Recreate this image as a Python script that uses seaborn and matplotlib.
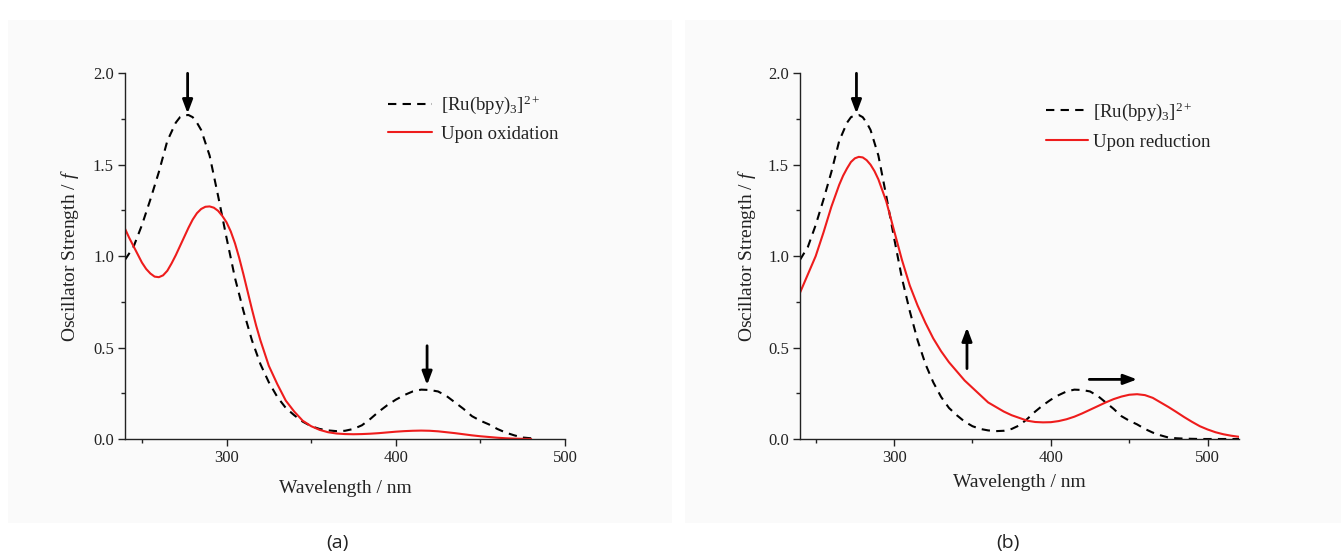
import numpy as np
import pandas as pd
import matplotlib
matplotlib.use("Agg")
import matplotlib.pyplot as plt
from matplotlib.patches import Rectangle
from matplotlib.ticker import MultipleLocator
import seaborn as sns

# ---- spectra (oscillator strength vs wavelength) ----
wl_ref = [240, 245, 250, 255, 260, 265, 270, 272.5, 275, 277.5, 280, 282.5, 285, 290, 295, 300, 305, 310,
          315, 320, 325, 330, 335, 340, 345, 350, 355, 360, 365, 370, 375, 380, 385,
          390, 395, 400, 405, 410, 415, 420, 425, 430, 435, 440, 445, 450, 455, 460,
          465, 470, 475, 480, 485, 490, 495, 500, 505, 510, 515, 520]
f_ref = [0.98, 1.05, 1.17, 1.31, 1.46, 1.63, 1.73, 1.76, 1.77, 1.772, 1.76, 1.73, 1.69, 1.55, 1.33, 1.10, 0.88, 0.70,
         0.54, 0.41, 0.31, 0.23, 0.17, 0.13, 0.095, 0.07, 0.055, 0.047, 0.043, 0.045, 0.055, 0.075, 0.11,
         0.15, 0.185, 0.215, 0.24, 0.26, 0.27, 0.268, 0.26, 0.235, 0.20, 0.165, 0.125, 0.10, 0.08, 0.055,
         0.035, 0.02, 0.008, 0.004, 0.002, 0.001, 0.0, 0.0, 0.0, 0.0, 0.0, 0.0]

wl_ox = [240, 242.5, 245, 247.5, 250, 252.5, 255, 257.5, 260, 262.5, 265, 267.5, 270, 272.5, 275,
         277.5, 280, 282.5, 285, 287.5, 290, 292.5, 295, 297.5, 300, 302.5, 305, 307.5, 310,
         312.5, 315, 317.5, 320, 325, 330, 335, 340, 345, 350, 355, 360, 365, 370, 375, 380, 385,
         390, 395, 400, 405, 410, 415, 420, 425, 430, 435, 440, 445, 450, 455, 460,
         465, 470, 475, 480]
f_ox = [1.15, 1.10, 1.055, 1.01, 0.965, 0.93, 0.905, 0.888, 0.885, 0.895, 0.92, 0.96, 1.005, 1.055, 1.105,
        1.155, 1.20, 1.235, 1.258, 1.27, 1.272, 1.265, 1.248, 1.22, 1.185, 1.135, 1.07, 0.99, 0.90,
        0.805, 0.71, 0.62, 0.54, 0.40, 0.30, 0.21, 0.15, 0.10, 0.07, 0.05, 0.037, 0.030, 0.027, 0.026, 0.027, 0.029,
        0.032, 0.036, 0.040, 0.043, 0.045, 0.046, 0.045, 0.042, 0.037, 0.032, 0.026, 0.020, 0.015, 0.011, 0.007,
        0.004, 0.002, 0.001, 0.0]

wl_red = [240, 245, 250, 255, 260, 265, 267.5, 270, 272.5, 275, 277.5, 280, 282.5, 285, 287.5, 290, 295, 300, 305, 310,
          315, 320, 325, 330, 335, 340, 345, 350, 355, 360, 365, 370, 375, 380, 385,
          390, 395, 400, 405, 410, 415, 420, 425, 430, 435, 440, 445, 450, 455, 460,
          465, 470, 475, 480, 485, 490, 495, 500, 505, 510, 515, 520]
f_red = [0.80, 0.90, 1.00, 1.13, 1.27, 1.39, 1.44, 1.48, 1.515, 1.535, 1.543, 1.54, 1.525, 1.50, 1.465, 1.42, 1.30, 1.14, 0.98, 0.84,
         0.73, 0.635, 0.55, 0.48, 0.42, 0.37, 0.32, 0.28, 0.24, 0.20, 0.175, 0.15, 0.13, 0.115, 0.10,
         0.093, 0.091, 0.092, 0.098, 0.108, 0.122, 0.14, 0.16, 0.18, 0.20, 0.218, 0.232, 0.242, 0.245, 0.24,
         0.225, 0.20, 0.175, 0.148, 0.12, 0.094, 0.07, 0.052, 0.037, 0.026, 0.018, 0.012]

x_ticks = [300, 400, 500]
y_ticks = [0.0, 0.5, 1.0, 1.5, 2.0]
ref_label = "[Ru(bpy)$_3$]$^{2+}$"
ox_label = "Upon oxidation"
red_label = "Upon reduction"
x_title = "Wavelength / nm"
y_title = "Oscillator Strength / $f$"

df_ref = pd.DataFrame({"wl": wl_ref, "f": f_ref})
df_ox = pd.DataFrame({"wl": wl_ox, "f": f_ox})
df_red = pd.DataFrame({"wl": wl_red, "f": f_red})

sns.set_style("ticks")
plt.rcParams["font.family"] = ["Liberation Serif", "DejaVu Serif"]
plt.rcParams["mathtext.fontset"] = "custom"
plt.rcParams["mathtext.rm"] = "Liberation Serif"
plt.rcParams["mathtext.it"] = "Liberation Serif:italic"
plt.rcParams["mathtext.bf"] = "Liberation Serif:bold"

fig = plt.figure(figsize=(13.41, 5.55), dpi=100)

# light panel backgrounds, kept behind the axes
for x0, w in [(8, 664), (685, 656)]:
    fig.patches.append(Rectangle((x0 / 1341, 1 - 523 / 555), w / 1341, 503 / 555,
                                 transform=fig.transFigure, facecolor="#fafafa",
                                 edgecolor="none", zorder=-10))

ax_a = fig.add_axes([125 / 1341, 1 - 439 / 555, 440 / 1341, 365.7 / 555])
ax_b = fig.add_axes([800 / 1341, 1 - 439 / 555, 439 / 1341, 365.7 / 555])

RED = "#ee1c1c"
dash = (4, 3)

df_ref_a = df_ref[df_ref["wl"] <= 480]
sns.lineplot(data=df_ref_a, x="wl", y="f", ax=ax_a, color="black", lw=1.5,
             label=ref_label, sort=False)
ax_a.lines[-1].set_dashes(dash)
sns.lineplot(data=df_ox, x="wl", y="f", ax=ax_a, color=RED, lw=1.5,
             label=ox_label, sort=False)

sns.lineplot(data=df_ref, x="wl", y="f", ax=ax_b, color="black", lw=1.5,
             label=ref_label, sort=False)
ax_b.lines[-1].set_dashes(dash)
sns.lineplot(data=df_red, x="wl", y="f", ax=ax_b, color=RED, lw=1.5,
             label=red_label, sort=False)

for ax, xmax in [(ax_a, 500), (ax_b, 520)]:
    for ln in ax.lines:
        ln.set_solid_joinstyle("round")
        ln.set_dash_joinstyle("round")
    ax.set_facecolor("none")
    ax.patch.set_alpha(0)
    ax.set_xlim(240, xmax)
    ax.set_ylim(0, 2.0)
    ax.set_xticks(x_ticks)
    ax.set_yticks(y_ticks)
    ax.set_yticklabels([f"{v:.1f}" for v in y_ticks])
    ax.xaxis.set_minor_locator(MultipleLocator(50))
    ax.yaxis.set_minor_locator(MultipleLocator(0.25))
    ax.tick_params(which="major", direction="out", length=5, width=1, labelsize=12,
                   color="#222222", labelcolor="#222222", pad=3)
    ax.tick_params(which="minor", direction="out", length=3, width=1, color="#222222")
    for s in ["top", "right"]:
        ax.spines[s].set_visible(False)
    for s in ["left", "bottom"]:
        ax.spines[s].set_linewidth(1.0)
        ax.spines[s].set_color("#222222")
    ax.set_xlabel(x_title, fontsize=14, color="#222222")
    ax.set_ylabel(y_title, fontsize=14, color="#222222")

ax_a.xaxis.set_label_coords(0.5, -0.111)
ax_a.yaxis.set_label_coords(-0.1, 0.5)
ax_b.xaxis.set_label_coords(0.5, -0.096)
ax_b.yaxis.set_label_coords(-0.095, 0.5)

leg_a = ax_a.legend(loc="upper left", bbox_to_anchor=(0.598, 0.944), frameon=False,
                    fontsize=13.5, handlelength=2.35, handletextpad=0.45,
                    labelspacing=0.5, borderpad=0, borderaxespad=0)
leg_b = ax_b.legend(loc="upper left", bbox_to_anchor=(0.56, 0.926), frameon=False,
                    fontsize=13.5, handlelength=2.25, handletextpad=0.25,
                    labelspacing=0.58, borderpad=0, borderaxespad=0)
for leg in (leg_a, leg_b):
    leg.get_lines()[0].set_dashes(dash)
    for t in leg.get_texts():
        t.set_color("#222222")

arrow_kw = dict(arrowstyle="-|>,head_length=0.8,head_width=0.3", color="black", lw=2,
                shrinkA=0, shrinkB=0)
ax_a.annotate("", xy=(277, 1.78), xytext=(277, 2.0), arrowprops=arrow_kw)
ax_a.annotate("", xy=(418.5, 0.295), xytext=(418.5, 0.51), arrowprops=arrow_kw)
ax_b.annotate("", xy=(276, 1.78), xytext=(276, 2.0), arrowprops=arrow_kw)
ax_b.annotate("", xy=(346.5, 0.61), xytext=(346.5, 0.385), arrowprops=arrow_kw)
ax_b.annotate("", xy=(455, 0.326), xytext=(424.5, 0.326), arrowprops=arrow_kw)

fig.text(337 / 1341, 1 - 543 / 555, "(a)", ha="center", va="center", fontsize=14,
         family=["Open Sans", "DejaVu Sans"], color="#222222")
fig.text(1008 / 1341, 1 - 543 / 555, "(b)", ha="center", va="center", fontsize=14,
         family=["Open Sans", "DejaVu Sans"], color="#222222")

fig.savefig("out.png", dpi=100, facecolor="white")
